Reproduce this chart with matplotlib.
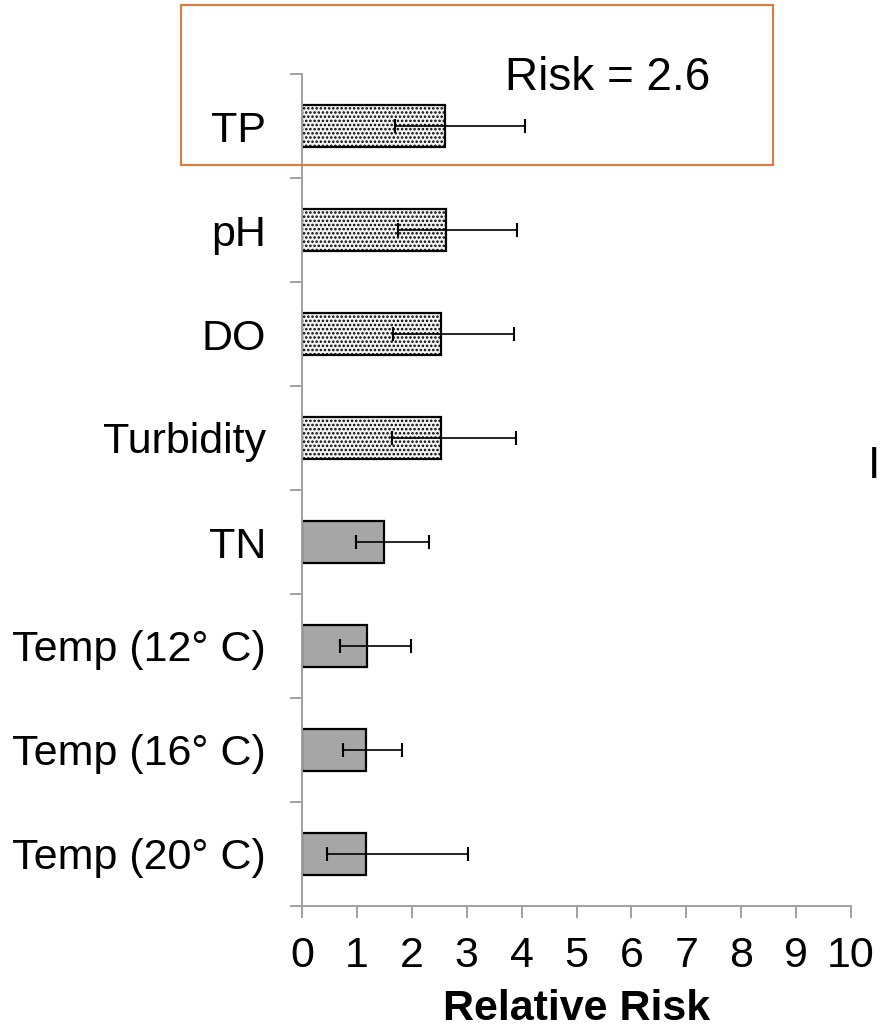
import matplotlib
matplotlib.use("Agg")
import matplotlib.pyplot as plt
from matplotlib.patches import Rectangle
import numpy as np

plt.rcParams['font.family'] = ['Liberation Sans', 'DejaVu Sans']
plt.rcParams['hatch.linewidth'] = 1.2
plt.rcParams['hatch.color'] = '#C8C8C8'

# Relative risk by water-quality factor, with lower/upper confidence bounds
factors = ["TP", "pH", "DO", "Turbidity", "TN",
           "Temp (12° C)", "Temp (16° C)", "Temp (20° C)"]
risk = [2.6, 2.62, 2.54, 2.53, 1.50, 1.18, 1.17, 1.17]
ci_low = [1.70, 1.74, 1.66, 1.64, 0.98, 0.70, 0.74, 0.46]
ci_high = [4.07, 3.92, 3.87, 3.89, 2.31, 1.98, 1.83, 3.02]
significant = [True, True, True, True, False, False, False, False]
x_ticks = [0, 1, 2, 3, 4, 5, 6, 7, 8, 9, 10]

W, H = 880, 1031
fig = plt.figure(figsize=(W / 100, H / 100), dpi=100)
ax = fig.add_axes([302 / W, 1 - 906 / H, 549 / W, 832 / H])

y = np.arange(len(factors))
risk_arr = np.array(risk)
xerr = np.vstack([risk_arr - np.array(ci_low), np.array(ci_high) - risk_arr])

for yi, r, sig in zip(y, risk, significant):
    if sig:
        ax.barh(yi, r, height=0.4, left=0, facecolor='#F4F4F4',
                edgecolor='black', linewidth=1.6, hatch='....', zorder=2)
    else:
        ax.barh(yi, r, height=0.4, left=0, facecolor='#A6A6A6',
                edgecolor='black', linewidth=1.6, zorder=2)

ax.errorbar(risk, y, xerr=xerr, fmt='none', ecolor='black',
            elinewidth=1.2, capsize=5, capthick=1.5, zorder=3)

ax.set_xlim(0, 10)
ax.set_ylim(len(factors) - 0.5, -0.5)

axis_grey = '#A0A0A0'
for side in ('top', 'right'):
    ax.spines[side].set_visible(False)
for side in ('left', 'bottom'):
    ax.spines[side].set_color(axis_grey)
    ax.spines[side].set_linewidth(1.4)

ax.set_xticks(x_ticks)
ax.set_xticklabels([str(t) for t in x_ticks], fontsize=31)
ax.tick_params(axis='x', direction='out', length=8.6, width=1.4,
               color=axis_grey, pad=13)

ax.set_yticks(y)
ax.set_yticklabels(factors, fontsize=31)
ax.set_yticks(np.arange(len(factors) + 1) - 0.5, minor=True)
ax.tick_params(axis='y', which='major', length=0, pad=26)
ax.tick_params(axis='y', which='minor', direction='out', length=8.6,
               width=1.4, color=axis_grey)

ax.set_xlabel("Relative Risk", fontsize=31, fontweight='bold', labelpad=9)

# Highlight box around the top factor
fig.patches.append(Rectangle((181 / W, 1 - 165 / H), (773 - 181) / W,
                             (165 - 5) / H, transform=fig.transFigure,
                             fill=False, edgecolor='#E07B39', linewidth=1.5))
fig.text(505 / W, 1 - 78 / H, "Risk = 2.6", fontsize=33, ha='left',
         va='center', color='black')
fig.text(1.0, 1 - 466 / H, "I", fontsize=32, ha='right', va='center',
         color='black')

fig.savefig("out.png", dpi=100)
